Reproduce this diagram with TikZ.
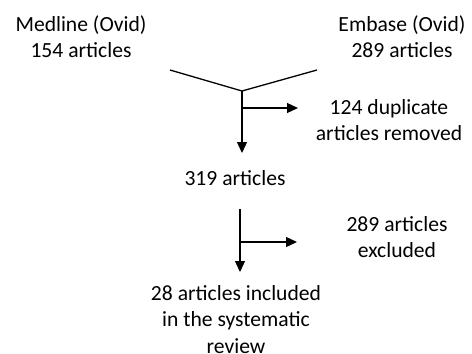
\documentclass[tikz,border=0pt]{standalone}
\usepackage{fontspec}
\setmainfont{Carlito}
\usetikzlibrary{arrows.meta}
\begin{document}
\begin{tikzpicture}[x=1pt,y=-1pt,
  lbl/.style={align=center,inner sep=0pt,anchor=base,font=\fontsize{21.6}{25.5}\selectfont},
  lbl3/.style={lbl,font=\fontsize{21.6}{26.5}\selectfont},
  conn/.style={line width=1.3pt,line cap=butt},
  arr/.style={conn,-{Triangle[length=11pt,width=10pt]}}]
\useasboundingbox (0,0) rectangle (472,354);
\node[lbl] (med) at (81,57) {Medline (Ovid)\\154 articles};
\node[lbl] (emb) at (402,57) {Embase (Ovid)\\289 articles};
\node[lbl] (dup) at (389,140) {124 duplicate\\articles removed};
\node[lbl] (n319) at (235,185) {319 articles};
\node[lbl] (exc) at (397,257) {289 articles\\excluded};
\node[lbl3] (inc) at (236,353) {28 articles included\\in the systematic\\review};
\coordinate (ml) at (170,70);
\coordinate (er) at (317,70);
\coordinate (j1) at (242,91);
\coordinate (b1) at (242,108);
\coordinate (t1) at (242,153);
\coordinate (h1) at (298,108);
\coordinate (s2) at (240,209);
\coordinate (b2) at (240,242);
\coordinate (t2) at (240,272);
\coordinate (h2) at (297,242);
\draw[conn] (ml) -- (j1) -- (er);
\draw[arr] (j1) -- (t1);
\draw[arr] (b1) -- (h1);
\draw[arr] (s2) -- (t2);
\draw[arr] (b2) -- (h2);
\end{tikzpicture}
\end{document}
